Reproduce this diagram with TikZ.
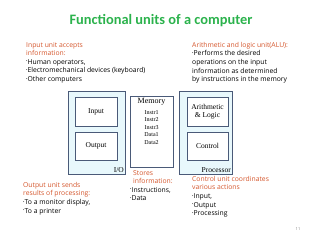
\documentclass[tikz,border=0pt]{standalone}
\usepackage{fontspec}
\setmainfont{Open Sans}
\newfontfamily\titlefont{Carlito}
\newfontfamily\boxfont{Liberation Serif}
\usetikzlibrary{positioning}

\definecolor{titlegreen}{HTML}{2BB24C}
\definecolor{notered}{HTML}{D4552B}
\definecolor{boxline}{HTML}{4A5A78}
\definecolor{boxfill}{HTML}{E8F8FC}

\newcommand{\bul}{\raisebox{0.4ex}{\scalebox{0.55}{•}}}

\begin{document}
\begin{tikzpicture}[x=1pt, y=-1pt,
  unit/.style={draw=boxline, line width=0.9pt, fill=boxfill, inner sep=0pt},
  part/.style={draw=boxline, line width=0.9pt, fill=white, inner sep=0pt,
    font=\boxfont\fontsize{7.5}{8.5}\selectfont, align=center},
  tag/.style={font=\boxfont\fontsize{7.5}{8}\selectfont, inner sep=1.5pt},
  note/.style={anchor=north west, align=left, inner sep=0pt,
    font=\fontsize{6.8}{8.6}\selectfont}]
\useasboundingbox (0,0) rectangle (320,240);

\node[font=\titlefont\bfseries\fontsize{14.4}{16}\selectfont, text=titlegreen] (title) at (161,21) {Functional units of a computer};

% I/O unit
\node[unit, minimum width=57pt, minimum height=83pt] (io) at (96.5,132.5) {};
\node[part, minimum width=42pt, minimum height=29pt] (inp) at (96,111.5) {Input};
\node[part, minimum width=42pt, minimum height=28pt] (outp) at (96,146) {Output};
\node[tag, anchor=south east] (iotag) at (io.south east) {I/O};

% memory
\node[part, minimum width=43pt, minimum height=71pt] (mem) at (151.5,131.5) {};
\node[font=\boxfont\fontsize{8}{9}\selectfont, below=2pt of mem.north, inner sep=1pt] (memtag) {Memory};
\node[font=\boxfont\fontsize{6}{7.5}\selectfont, align=center, below=3pt of memtag, inner sep=0pt] (memcells) {Instr1\\Instr2\\Instr3\\Data1\\Data2};

% processor
\node[unit, minimum width=53pt, minimum height=83pt] (proc) at (205.5,132.5) {};
\node[part, minimum width=41pt, minimum height=29pt] (alu) at (207.5,111.5) {Arithmetic\\\& Logic};
\node[part, minimum width=41pt, minimum height=28pt] (ctrl) at (207.5,146) {Control};
\node[tag, anchor=south east] (proctag) at (proc.south east) {Processor};

% notes
\node[note] (innote) at (26,42) {\textcolor{notered}{Input unit accepts}\\\textcolor{notered}{information:}\\\bul Human operators,\\\bul Electromechanical devices (keyboard)\\\bul Other computers};
\node[note] (alunote) at (192,42) {\textcolor{notered}{Arithmetic and logic unit(ALU):}\\\bul Performs the desired\\operations on the input\\information as determined\\by instructions in the memory};
\node[note] (outnote) at (23,182) {\textcolor{notered}{Output unit sends}\\\textcolor{notered}{results of processing:}\\\bul To a monitor display,\\\bul To a printer};
\node[note] (memnote) at (130,170) {\hspace{3pt}\textcolor{notered}{Stores}\\\hspace{3pt}\textcolor{notered}{information:}\\\bul Instructions,\\\bul Data};
\node[note] (ctrlnote) at (192,176) {\textcolor{notered}{Control unit coordinates}\\\textcolor{notered}{various actions}\\\bul Input,\\\bul Output\\\bul Processing};

\node[font=\fontsize{4}{5}\selectfont, text=gray] (pgno) at (298,229) {11};
\end{tikzpicture}
\end{document}
